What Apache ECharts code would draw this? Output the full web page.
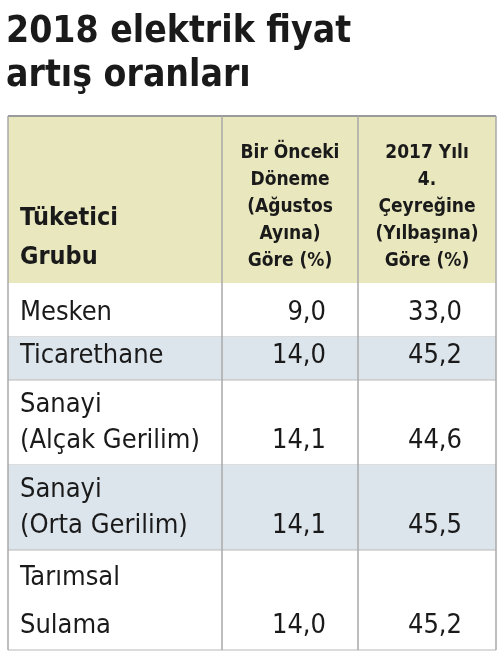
<!DOCTYPE html>
<html>
<head>
<meta charset="utf-8">
<style>
  *, html, body { margin: 0; padding: 0; }
  html, body, #container { height: 100%; background: #fff; }
</style>
<script src="https://cdn.jsdelivr.net/npm/echarts@6/dist/echarts.min.js"></script>
</head>
<body>
<div id="container"></div>
<script>
var titleLines = ["2018 elektrik fiyat", "artış oranları"];
var headers = [
    ["Tüketici", "Grubu"],
    ["Bir Önceki", "Döneme", "(Ağustos", "Ayına)", "Göre (%)"],
    ["2017 Yılı", "4.", "Çeyreğine", "(Yılbaşına)", "Göre (%)"]
];
var groups = [["Mesken"], ["Ticarethane"], ["Sanayi", "(Alçak Gerilim)"], ["Sanayi", "(Orta Gerilim)"], ["Tarımsal", "Sulama"]];
var prevPeriod = ["9,0", "14,0", "14,1", "14,1", "14,0"];
var sinceNewYear = ["33,0", "45,2", "44,6", "45,5", "45,2"];

var font = '"DejaVu Sans Condensed", "Open Sans", sans-serif';
var chart = echarts.init(document.getElementById("container"));

var left = 8, right = 496, col1 = 222, col2 = 358;
var headTop = 116, headBottom = 283;
var rowHeights = [54, 43, 85, 85, 100];
var lineGaps = [0, 0, 36, 36, 48];
var els = [];

titleLines.forEach(function (t, i) {
    els.push({ type: "text", x: 6, y: 14 + i * 44, style: { text: t, font: "bold 37px " + font, fill: "#1a1a1a" } });
});

els.push({ type: "rect", shape: { x: left, y: headTop, width: right - left, height: headBottom - headTop }, style: { fill: "#e9e7bd" } });
headers[0].forEach(function (t, i) {
    els.push({ type: "text", x: 20, y: 218 + i * 39, style: { text: t, font: "bold 25px " + font, fill: "#1a1a1a", verticalAlign: "middle" } });
});
[[headers[1], 290], [headers[2], 427]].forEach(function (h) {
    h[0].forEach(function (t, i) {
        els.push({ type: "text", x: h[1], y: 153 + i * 27, style: { text: t, font: "bold 19px " + font, fill: "#1a1a1a", align: "center", verticalAlign: "middle" } });
    });
});

var y = headBottom;
groups.forEach(function (g, r) {
    var h = rowHeights[r];
    if (r % 2 === 1) {
        els.push({ type: "rect", shape: { x: left, y: y, width: right - left, height: h }, style: { fill: "#dde5ec" } });
    }
    var lastY = y + h - 24;
    g.forEach(function (t, i) {
        var ty = lastY - (g.length - 1 - i) * lineGaps[r];
        els.push({ type: "text", x: 20, y: ty, style: { text: t, font: "27px " + font, fill: "#1a1a1a", verticalAlign: "middle" } });
    });
    els.push({ type: "text", x: 326, y: lastY, style: { text: prevPeriod[r], font: "27px " + font, fill: "#1a1a1a", align: "right", verticalAlign: "middle" } });
    els.push({ type: "text", x: 462, y: lastY, style: { text: sinceNewYear[r], font: "27px " + font, fill: "#1a1a1a", align: "right", verticalAlign: "middle" } });
    y += h;
    els.push({ type: "line", shape: { x1: left, y1: y, x2: right, y2: y }, style: { stroke: "#b8b8b8", lineWidth: 1 } });
});

els.push({ type: "line", shape: { x1: left, y1: headTop, x2: right, y2: headTop }, style: { stroke: "#9a9a9a", lineWidth: 2 } });
[left, col1, col2, right].forEach(function (x) {
    els.push({ type: "line", shape: { x1: x, y1: headTop, x2: x, y2: y }, style: { stroke: "#a8a8a8", lineWidth: 1.5 } });
});

chart.setOption({ animation: false, graphic: { elements: els } });
</script>
</body>
</html>
